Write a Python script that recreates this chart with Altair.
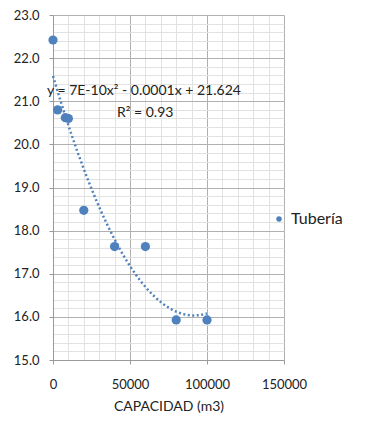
import altair as alt
import pandas as pd

# data
capacidad = [0, 3000, 8000, 10000, 20000, 40000, 60000, 80000, 100000]
valores = [22.42, 20.80, 20.62, 20.60, 18.47, 17.63, 17.63, 15.93, 15.93]
serie = "Tubería"

x_major = [0, 50000, 100000, 150000]
x_minor = list(range(0, 150001, 10000))
y_major = [15, 16, 17, 18, 19, 20, 21, 22, 23]
y_minor = [round(15 + 0.2 * i, 1) for i in range(41)]

df = pd.DataFrame({"cap": capacidad, "val": valores, "serie": serie})

FONT = "Lato"
BLUE = "#4F81BD"
W, H = 231, 345

xs = alt.Scale(domain=[0, 150000], nice=False)
ys = alt.Scale(domain=[15, 23], nice=False, zero=False)

xa = alt.Axis(
    values=x_major,
    format="d",
    title="CAPACIDAD (m3)",
    grid=True,
    gridColor="#B0B0B0",
    labelPadding=14,
    titlePadding=8,
    tickSize=4,
    labelFlush=False,
)
ya = alt.Axis(
    values=y_major,
    format=".1f",
    title=None,
    grid=True,
    gridColor="#B0B0B0",
    labelPadding=10,
    tickSize=4,
    labelFlush=False,
)
xa_minor = alt.Axis(
    orient="top",
    values=x_minor,
    title=None,
    labels=False,
    ticks=False,
    domain=False,
    grid=True,
    gridColor="#E2E2E2",
)
ya_minor = alt.Axis(
    orient="right",
    values=y_minor,
    title=None,
    labels=False,
    ticks=False,
    domain=False,
    grid=True,
    gridColor="#E2E2E2",
)

base = alt.Chart(df)

minor = base.mark_point(opacity=0).encode(
    x=alt.X("cap:Q", scale=xs, axis=xa_minor),
    y=alt.Y("val:Q", scale=ys, axis=ya_minor),
)

points = base.mark_circle(size=85, opacity=1).encode(
    x=alt.X("cap:Q", scale=xs, axis=xa),
    y=alt.Y("val:Q", scale=ys, axis=ya),
    color=alt.Color(
        "serie:N",
        scale=alt.Scale(range=[BLUE]),
        legend=alt.Legend(
            title=None,
            orient="none",
            legendX=218,
            legendY=196,
            symbolSize=30,
            labelFontSize=16,
            labelColor="#222222",
            labelFont=FONT,
            symbolType="circle",
        ),
    ),
)

trend = base.transform_regression(
    "cap", "val", method="poly", order=2
).mark_line(color=BLUE, strokeWidth=2.5, strokeDash=[2, 2.5]).encode(
    x=alt.X("cap:Q", scale=xs, axis=None),
    y=alt.Y("val:Q", scale=ys, axis=None),
)

eq = alt.Chart(pd.DataFrame({"t": ["y = 7E-10x² - 0.0001x + 21.624"]})).mark_text(
    font=FONT, fontSize=14, color="#222222", align="left", baseline="middle"
).encode(text="t:N", x=alt.value(-6), y=alt.value(76))
r2 = alt.Chart(pd.DataFrame({"t": ["R² = 0.93"]})).mark_text(
    font=FONT, fontSize=14, color="#222222", align="left", baseline="middle"
).encode(text="t:N", x=alt.value(64), y=alt.value(98))

chart = alt.layer(minor, points, trend, eq, r2).resolve_axis(
    x="independent", y="independent"
).properties(
    width=W,
    height=H,
    padding={"left": 5, "top": 1, "right": 5, "bottom": 5},
).configure_view(stroke=None).configure_axis(
    labelFont=FONT,
    titleFont=FONT,
    labelFontSize=13,
    titleFontSize=14,
    titleFontWeight="normal",
    labelColor="#222222",
    titleColor="#222222",
    domainColor="#9A9A9A",
    tickColor="#9A9A9A",
)

chart.save("out.html", embed_options={"renderer": "svg", "actions": False})
